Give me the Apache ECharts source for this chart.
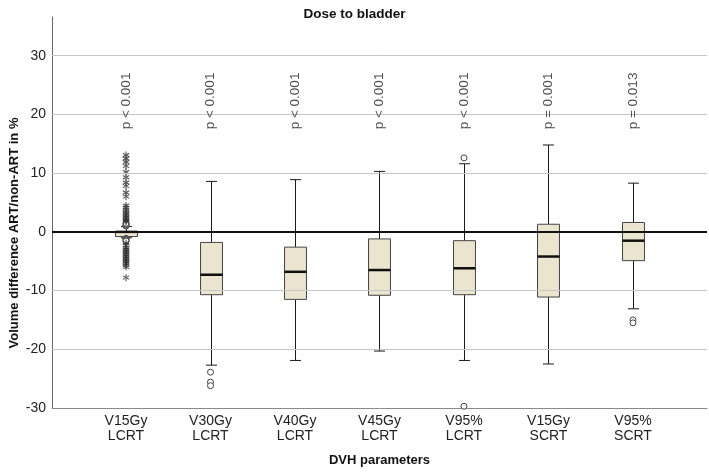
<!DOCTYPE html>
<html>
<head>
<meta charset="utf-8">
<script src="https://cdn.jsdelivr.net/npm/echarts@6/dist/echarts.min.js"></script>
<style>html,body{margin:0;padding:0;background:#fff}#c{width:709px;height:472px}</style>
</head>
<body>
<div id="c"></div>
<script>
const categories = ['V15Gy\nLCRT', 'V30Gy\nLCRT', 'V40Gy\nLCRT', 'V45Gy\nLCRT', 'V95%\nLCRT', 'V15Gy\nSCRT', 'V95%\nSCRT'];
const boxMin    = [-1.0, -22.7, -21.9, -20.3, -21.9, -22.5, -13.1];
const boxQ1     = [-0.8, -10.7, -11.5, -10.8, -10.7, -11.1, -4.9];
const boxMedian = [0.0, -7.3, -6.8, -6.5, -6.2, -4.2, -1.5];
const boxQ3     = [0.05, -1.8, -2.6, -1.2, -1.5, 1.3, 1.6];
const boxMax    = [0.9, 8.6, 8.9, 10.3, 11.6, 14.8, 8.3];
const circleOutliers = [
  [1.0, 1.15, 1.3, 1.45, -1.1, -1.25, -1.4, -1.55],
  [-23.9, -25.6, -26.2],
  [],
  [],
  [12.6, -29.7],
  [],
  [-15.0, -15.5]
];
const starOutliers = [
  [13.1, 12.5, 11.9, 11.2, 10.2, 9.3, 8.4, 7.8, 6.7, 6.0, 4.5, 4.1, 3.7, 3.4, 3.1, 2.8, 2.5, 2.2, 1.9, 1.7,
   -1.9, -2.3, -2.7, -3.0, -3.3, -3.6, -3.9, -4.2, -4.5, -4.8, -5.1, -5.4, -5.7, -6.0, -7.8],
  [], [], [], [], [], []
];
const pLabels = ['p < 0.001', 'p < 0.001', 'p < 0.001', 'p < 0.001', 'p < 0.001', 'p = 0.001', 'p = 0.013'];
const pLabelLevel = 22.3;
const yTicks = [-30, -20, -10, 0, 10, 20, 30];
const gridLevels = [-20, -10, 10, 20, 30];

const FONT = '"Liberation Sans", Arial, sans-serif';
const starPath = 'path://M-0.75,-5L0.75,-5L0.75,5L-0.75,5Z M3.95,3.15L4.7,1.85L-3.95,-3.15L-4.7,-1.85Z M-4.7,1.85L-3.95,3.15L4.7,-1.85L3.95,-3.15Z';

const boxData = categories.map((c, i) => [i, boxMin[i], boxQ1[i], boxMedian[i], boxQ3[i], boxMax[i]]);
const circleData = [];
circleOutliers.forEach((arr, i) => arr.forEach(v => circleData.push([i, v])));
const starData = [];
starOutliers.forEach((arr, i) => arr.forEach(v => starData.push([i, v])));
const pData = pLabels.map((t, i) => [i, pLabelLevel]);

const chart = echarts.init(document.getElementById('c'), null, {renderer: 'canvas'});
chart.setOption({
  animation: false,
  backgroundColor: '#ffffff',
  title: {
    text: 'Dose to bladder', left: 'center', top: 2,
    textStyle: {fontFamily: FONT, fontSize: 13.5, fontWeight: 'bold', color: '#111'}
  },
  graphic: [{
    type: 'text', x: 14, y: 233, rotation: Math.PI / 2,
    style: {text: 'Volume difference ART/non-ART in %', font: 'bold 13px ' + FONT, fill: '#111',
            textAlign: 'center', textVerticalAlign: 'middle'}
  }],
  grid: {left: 52, right: 2, top: 17, bottom: 64, containLabel: false},
  xAxis: {
    type: 'value', min: -0.876, max: 6.876,
    name: 'DVH parameters', nameLocation: 'middle', nameGap: 46,
    nameTextStyle: {fontFamily: FONT, fontSize: 13, fontWeight: 'bold', color: '#111'},
    axisLine: {show: true, onZero: false, lineStyle: {color: '#8a8a8a', width: 1}},
    axisTick: {show: false},
    splitLine: {show: false},
    axisLabel: {
      customValues: categories.map((c, i) => i),
      formatter: v => categories[Math.round(v)] || '',
      fontFamily: FONT, fontSize: 14, color: '#222', lineHeight: 15, margin: 6
    }
  },
  yAxis: {
    type: 'value', min: -30, max: 36.6, interval: 10,
    axisLine: {show: true, onZero: false, lineStyle: {color: '#6a6a6a', width: 1}},
    axisTick: {show: false},
    splitLine: {show: false},
    axisLabel: {
      formatter: v => (yTicks.indexOf(v) >= 0 ? String(v) : ''),
      fontFamily: FONT, fontSize: 14, color: '#222', margin: 6
    }
  },
  series: [
    {
      type: 'scatter', name: 'grid', z: 1, data: [], silent: true,
      markLine: {
        silent: true, symbol: 'none', label: {show: false},
        lineStyle: {color: '#c6c6c6', width: 1, type: 'solid'},
        data: gridLevels.map(v => ({yAxis: v}))
      }
    },
    {
      type: 'custom', name: 'box', z: 2, data: boxData,
      renderItem: function (params, api) {
        const x = api.value(0);
        const pMin = api.coord([x, api.value(1)]);
        const pQ1 = api.coord([x, api.value(2)]);
        const pMed = api.coord([x, api.value(3)]);
        const pQ3 = api.coord([x, api.value(4)]);
        const pMax = api.coord([x, api.value(5)]);
        const band = api.size([1, 0])[0];
        const bw = band * 0.26;
        const cw = band * 0.13;
        const cx = Math.round(pMed[0]) + 0.5;
        const stroke = {stroke: '#1a1a1a', lineWidth: 1};
        return {
          type: 'group',
          children: [
            {type: 'line', shape: {x1: cx, y1: pQ3[1], x2: cx, y2: pMax[1]}, style: stroke},
            {type: 'line', shape: {x1: cx, y1: pQ1[1], x2: cx, y2: pMin[1]}, style: stroke},
            {type: 'line', shape: {x1: cx - cw / 2, y1: pMax[1], x2: cx + cw / 2, y2: pMax[1]}, style: stroke},
            {type: 'line', shape: {x1: cx - cw / 2, y1: pMin[1], x2: cx + cw / 2, y2: pMin[1]}, style: stroke},
            {type: 'rect', shape: {x: cx - bw / 2, y: pQ3[1], width: bw, height: pQ1[1] - pQ3[1]},
             style: {fill: '#ebe4cf', stroke: '#444', lineWidth: 1}},
            {type: 'line', shape: {x1: cx - bw / 2, y1: pMed[1], x2: cx + bw / 2, y2: pMed[1]},
             style: {stroke: '#111', lineWidth: 2.5}}
          ]
        };
      }
    },
    {
      type: 'scatter', name: 'circles', z: 4, data: circleData,
      symbol: 'circle', symbolSize: 6,
      itemStyle: {color: '#ffffff', borderColor: '#444', borderWidth: 1, opacity: 1}
    },
    {
      type: 'scatter', name: 'stars', z: 4, data: starData,
      symbol: starPath, symbolSize: 7,
      itemStyle: {color: '#2a2a2a'}
    },
    {
      type: 'scatter', name: 'pvalues', z: 5, data: pData,
      symbolSize: 0, silent: true,
      label: {
        show: true, position: 'inside', rotate: 90,
        formatter: p => pLabels[p.dataIndex],
        fontFamily: FONT, fontSize: 13.5, color: '#222'
      },
      markLine: {
        silent: true, symbol: 'none', label: {show: false},
        lineStyle: {color: '#111', width: 2, type: 'solid'},
        data: [{yAxis: 0}]
      }
    }
  ]
});
</script>
</body>
</html>
